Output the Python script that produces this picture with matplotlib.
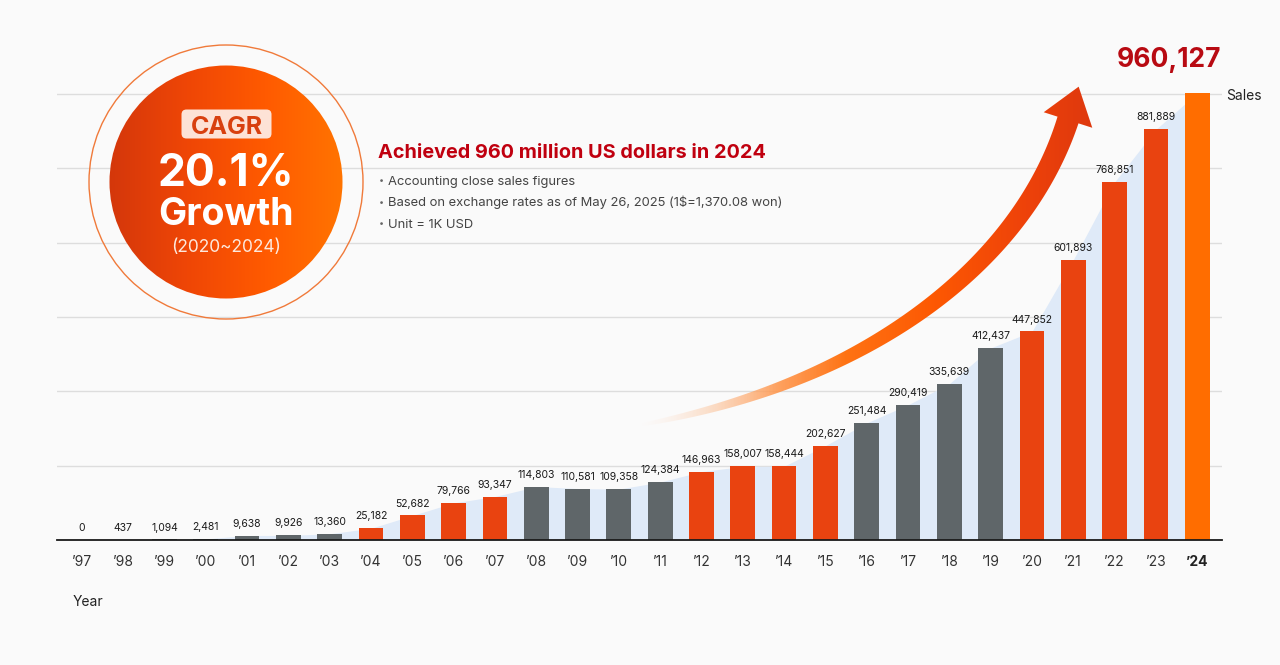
import numpy as np
import matplotlib
matplotlib.use('Agg')
import matplotlib.pyplot as plt
from matplotlib.patches import Circle, FancyBboxPatch, Polygon
from matplotlib.colors import LinearSegmentedColormap

plt.rcParams['font.family'] = ['Inter', 'DejaVu Sans']

# ---- data ----
years = ['’97', '’98', '’99', '’00', '’01', '’02', '’03', '’04', '’05', '’06',
         '’07', '’08', '’09', '’10', '’11', '’12', '’13', '’14', '’15', '’16',
         '’17', '’18', '’19', '’20', '’21', '’22', '’23', '’24']
sales = [0, 437, 1094, 2481, 9638, 9926, 13360, 25182, 52682, 79766,
         93347, 114803, 110581, 109358, 124384, 146963, 158007, 158444, 202627, 251484,
         290419, 335639, 412437, 447852, 601893, 768851, 881889, 960127]
groups = (['gray'] * 7 + ['red'] * 4 + ['gray'] * 4 + ['red'] * 4 +
          ['gray'] * 4 + ['red'] * 4 + ['last'])

bar_colors = {'gray': '#5f6669', 'red': '#e94310', 'last': '#ff6d00'}
BG = '#fafafa'

fig = plt.figure(figsize=(12.8, 6.65), dpi=100, facecolor=BG)

# ---- main bar chart ----
ax = fig.add_axes([57 / 1280, 125 / 665, (1222 - 57) / 1280, 500 / 665])
ax.set_facecolor('none')
x = np.arange(len(sales))
ax.set_xlim(-0.6, len(sales) - 0.4)
ax.set_ylim(0, 1073900)

ax.set_yticks(np.arange(1, 7) * 159600)
ax.yaxis.grid(True, color='#dddddd', lw=1)
ax.set_axisbelow(True)
ax.tick_params(axis='y', length=0, labelleft=False)
for s in ['left', 'right', 'top']:
    ax.spines[s].set_visible(False)
ax.spines['bottom'].set_color('#1a1a1a')
ax.spines['bottom'].set_linewidth(1.3)
ax.spines['bottom'].set_zorder(5)

ax.fill_between(x, sales, color='#dfeaf8', lw=0, zorder=1)
ax.bar(x, sales, width=0.6, color=[bar_colors[g] for g in groups], zorder=2)

ax.set_xticks(x, years)
ax.tick_params(axis='x', length=0, pad=10.5, labelsize=10, labelcolor='#333333')
ax.get_xticklabels()[-1].set_fontweight('bold')
ax.get_xticklabels()[-1].set_color('#222222')

for i, v in enumerate(sales[:-1]):
    ax.annotate(f'{v:,}', (x[i], v), xytext=(0, 5), textcoords='offset points',
                ha='center', va='bottom', fontsize=7.5, color='#1a1a1a')

ax.annotate(f'{sales[-1]:,}', (x[-1], sales[-1]), xytext=(-20, 24),
            textcoords='offset points', ha='center', va='center',
            fontsize=19, fontweight='bold', color='#b80a12', annotation_clip=False)
ax.annotate('Sales', (x[-1], sales[-1]), xytext=(21, -2), textcoords='offset points',
            ha='left', va='center', fontsize=10, color='#222222', annotation_clip=False)
fig.text(73 / 1280, 1 - 602 / 665, 'Year', ha='left', va='center', fontsize=10,
         color='#222222')

# ---- decoration layer in pixel coordinates ----
deco = fig.add_axes([0, 0, 1, 1], zorder=3)
deco.set_xlim(0, 1280)
deco.set_ylim(665, 0)
deco.axis('off')
deco.patch.set_alpha(0)

# CAGR badge
cx, cy = 226, 182
deco.add_patch(Circle((cx, cy), 137, facecolor='none', edgecolor='#f07a3a', lw=1))
disc = Circle((cx, cy), 116.5, facecolor='none', edgecolor='none')
deco.add_patch(disc)
circ_cmap = LinearSegmentedColormap.from_list('circ', ['#d4370b', '#ef4606', '#ff5a00', '#ff7400'])
grad = circ_cmap(np.linspace(0, 1, 256))[None, :, :]
im = deco.imshow(grad, extent=(cx - 117, cx + 117, cy + 117, cy - 117), aspect='auto',
                 interpolation='bilinear')
im.set_clip_path(disc)

deco.add_patch(FancyBboxPatch((184, 112), 85, 24, boxstyle='round,pad=2.5,rounding_size=5',
                              facecolor='#fde2d6', edgecolor='none'))
deco.text(cx + 0.5, 134, 'CAGR', ha='center', va='baseline', fontsize=18,
          fontweight='bold', color='#d8400f')
deco.text(cx, 186, '20.1%', ha='center', va='baseline', fontsize=32,
          fontweight='bold', color='white')
deco.text(cx, 225, 'Growth', ha='center', va='baseline', fontsize=27,
          fontweight='bold', color='white')
deco.text(cx, 252, '(2020~2024)', ha='center', va='baseline', fontsize=12.5,
          color='#fde8dc')

# headline text
deco.text(378, 158, 'Achieved 960 million US dollars in 2024', ha='left', va='baseline',
          fontsize=14.3, fontweight='bold', color='#c0000f')
notes = ['Accounting close sales figures',
         'Based on exchange rates as of May 26, 2025 (1$=1,370.08 won)',
         'Unit = 1K USD']
for k, note in enumerate(notes):
    yb = 185 + k * 21.3
    deco.text(379, yb - 1.5, '•', ha='left', va='baseline', fontsize=6.5, color='#666666')
    deco.text(388, yb, note, ha='left', va='baseline', fontsize=9.35, color='#444444')

# growth arrow
P = np.array([[640, 425], [860, 385], [1020, 270], [1068, 120]], dtype=float)
t = np.linspace(0, 1, 300)[:, None]
curve = ((1 - t) ** 3 * P[0] + 3 * t * (1 - t) ** 2 * P[1] +
         3 * t ** 2 * (1 - t) * P[2] + t ** 3 * P[3])
deriv = (3 * (1 - t) ** 2 * (P[1] - P[0]) + 6 * t * (1 - t) * (P[2] - P[1]) +
         3 * t ** 2 * (P[3] - P[2]))
tang = deriv / np.linalg.norm(deriv, axis=1, keepdims=True)
norm = np.column_stack([-tang[:, 1], tang[:, 0]])
half = (2 + 20 * t[:, 0] ** 0.6) / 2
left = curve + norm * half[:, None]
right = curve - norm * half[:, None]
d_end = tang[-1]
n_end = norm[-1]
base = curve[-1]
tip = base + d_end * 35
c1 = base + n_end * 25.5
c2 = base - n_end * 25.5
outline = np.vstack([left, c1, tip, c2, right[::-1]])
arrow_shape = Polygon(outline, closed=True, facecolor='none', edgecolor='none')
deco.add_patch(arrow_shape)

stops = [(0.00, (253, 232, 218, 0.0)), (0.12, (251, 205, 172, 0.45)),
         (0.30, (255, 150, 75, 0.88)), (0.45, (255, 115, 20, 1.0)),
         (0.65, (253, 88, 2, 1.0)), (0.85, (238, 66, 10, 1.0)),
         (1.00, (222, 56, 14, 1.0))]
arrow_cmap = LinearSegmentedColormap.from_list(
    'arrow', [(p, (r / 255, g / 255, b / 255, a)) for p, (r, g, b, a) in stops])
agrad = arrow_cmap(np.linspace(0, 1, 400))[None, :, :]
aim = deco.imshow(agrad, extent=(640, 1095, 440, 75), aspect='auto', interpolation='bilinear')
aim.set_clip_path(arrow_shape)

deco.set_xlim(0, 1280)
deco.set_ylim(665, 0)

fig.savefig('out.png', dpi=100, facecolor=BG)
